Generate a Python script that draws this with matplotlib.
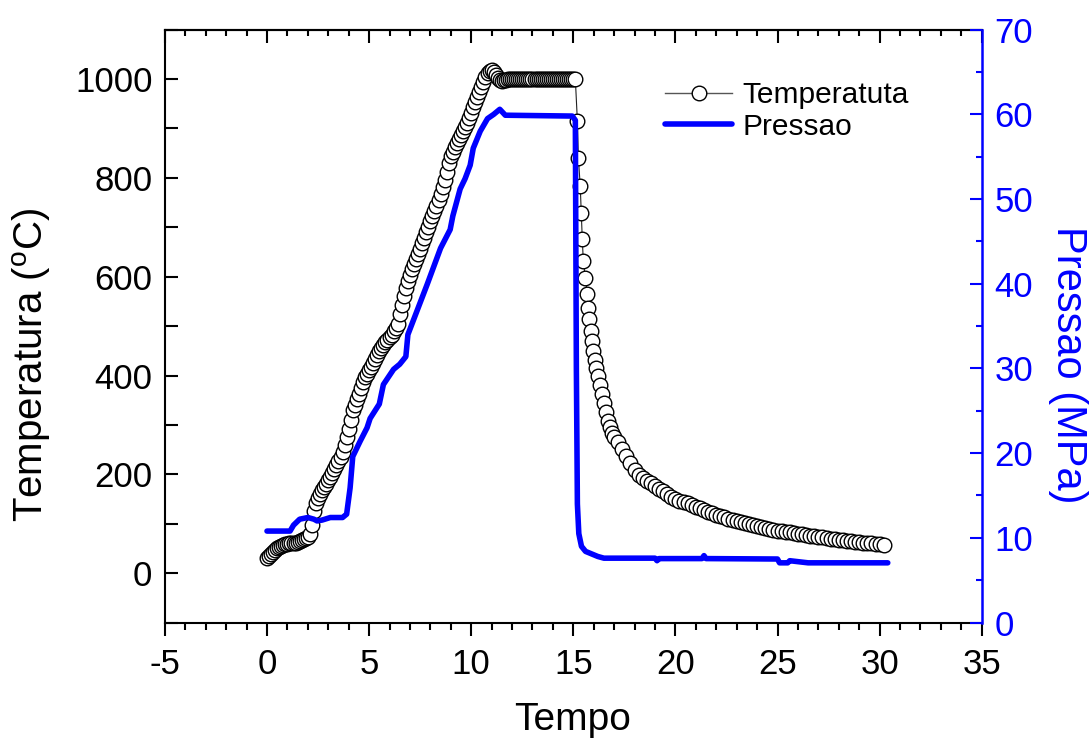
import numpy as np
import matplotlib
matplotlib.use("Agg")
import matplotlib.pyplot as plt
from matplotlib.ticker import MultipleLocator
from matplotlib.lines import Line2D

plt.rcParams["font.family"] = ["Liberation Sans", "DejaVu Sans"]
plt.rcParams["mathtext.default"] = "regular"
plt.rcParams["axes.unicode_minus"] = False

# Temperature (C)
ramp_temp = [30, 34, 38, 43, 47, 50, 52, 54, 56, 58,
             59, 60, 60, 61, 62, 63, 65, 67, 69, 71,
             73, 80, 98, 125, 141, 152, 160, 168, 174, 181,
             188, 195, 202, 210, 218, 226, 235, 245, 260, 276,
             292, 310, 330, 341, 352, 363, 374, 386, 397, 404,
             411, 418, 425, 433, 441, 449, 455, 461, 467, 472,
             477, 483, 490, 496, 505, 525, 542, 560, 578, 592,
             604, 615, 625, 635, 646, 657, 668, 679, 690, 701,
             712, 723, 733, 743, 755, 768, 782, 796, 812, 830,
             845, 853, 862, 870, 878, 886, 895, 903, 911, 922,
             932, 943, 953, 964, 974, 984, 994, 1004, 1012, 1016,
             1018, 1015, 1008, 1002, 998, 997]
hold_temp = [998, 999, 1000, 1001, 1001, 1000, 1000, 1001, 1001, 1000,
             1000, 1001, 1000, 1000, 1001, 1000, 1000, 1000, 1001, 1000,
             1000, 1001, 1000, 1000, 1000, 1001, 1000, 1000, 1001, 1000,
             1000, 1000, 1001, 1000, 1000]
cool_time = [15.10, 15.20, 15.25, 15.34, 15.39, 15.44, 15.49, 15.59, 15.69, 15.74,
             15.78, 15.88, 15.93, 15.98, 16.05, 16.12, 16.20, 16.30, 16.40, 16.50,
             16.60, 16.70, 16.80, 16.90]
cool_temp = [1000, 915, 840, 783, 729, 676, 632, 597, 565, 536,
             514, 490, 470, 449, 432, 416, 400, 380, 362, 345,
             326, 308, 295, 284]
tail_temp = [275, 265, 251, 237, 222, 208, 198,
             192, 187, 182, 176, 171, 166, 160, 155, 150,
             147, 144, 141, 137, 134, 131, 127, 124, 121, 118,
             115, 113, 110, 108, 105, 103, 101, 99, 97, 95,
             93, 91, 89, 87, 86, 85, 84, 83, 82, 80,
             79, 78, 76, 75, 74, 73, 72, 70, 69, 68,
             67, 66, 65, 64, 63, 62, 61, 60, 59, 58,
             57]

# Pressure (MPa) polyline
press_time = [0.0, 1.13, 1.3, 1.6, 2.0, 2.3, 2.45, 2.7, 3.1, 3.7,
              3.9, 4.07, 4.2, 4.56, 4.9, 5.05, 5.5, 5.7, 6.2, 6.5,
              6.8, 6.9, 7.84, 8.5, 8.97, 9.1, 9.46, 9.7, 9.95, 10.1,
              10.44, 10.8, 11.1, 11.4, 11.67, 14.95, 15.1, 15.15, 15.2, 15.27,
              15.4, 15.6, 15.9, 16.2, 16.5, 19.0, 19.1, 19.2, 21.3, 21.4,
              21.5, 25.0, 25.1, 25.5, 25.6, 26.5, 26.6, 30.4]
press_val = [10.8, 10.8, 11.5, 12.2, 12.4, 12.2, 12.0, 12.1, 12.4, 12.4,
             12.8, 15.9, 19.6, 21.4, 23.0, 24.1, 25.8, 28.1, 29.9, 30.5,
             31.4, 34.0, 39.9, 44.2, 46.4, 48.0, 51.2, 52.4, 54.0, 56.0,
             58.0, 59.5, 60.0, 60.6, 59.9, 59.8, 59.3, 30.0, 14.0, 10.5,
             9.0, 8.4, 8.1, 7.8, 7.6, 7.6, 7.3, 7.55, 7.55, 7.9,
             7.55, 7.5, 7.05, 7.05, 7.3, 7.05, 7.05, 7.05]

ramp_time = np.linspace(0.0, 11.5, len(ramp_temp))
hold_time = np.linspace(11.6, 15.0, len(hold_temp))
tail_time = np.linspace(17.0, 30.2, len(tail_temp))
temp_time = np.concatenate([ramp_time, hold_time, cool_time, tail_time])
temp_val = np.concatenate([ramp_temp, hold_temp, cool_temp, tail_temp])

W, H = 1092, 742
fig = plt.figure(figsize=(W / 100, H / 100), dpi=100)
ax = fig.add_axes([0.151, 0.161, 0.748, 0.799])
ax2 = ax.twinx()

ax.plot(temp_time, temp_val, color="#222222", linewidth=0.8,
        marker="o", markersize=10.5, markerfacecolor="white",
        markeredgecolor="black", markeredgewidth=1.0)
ax2.plot(press_time, press_val, color="#0000ff", linewidth=4,
         solid_capstyle="round", solid_joinstyle="round")

ax.set_xlim(-5, 35)
ax.set_ylim(-100, 1100)
ax2.set_ylim(0, 70)

ax.xaxis.set_major_locator(MultipleLocator(5))
ax.xaxis.set_minor_locator(MultipleLocator(1))
ax.yaxis.set_major_locator(MultipleLocator(200))
ax.yaxis.set_minor_locator(MultipleLocator(100))
ax2.yaxis.set_major_locator(MultipleLocator(10))
ax2.yaxis.set_minor_locator(MultipleLocator(5))

ax.tick_params(axis="x", which="major", direction="out", length=9, width=1.5,
               labelsize=25, pad=9)
ax.tick_params(axis="x", which="minor", direction="out", length=5, width=1.5)
ax.tick_params(axis="y", which="both", direction="in", length=9, width=1.5,
               labelsize=25, pad=9)
ax2.tick_params(axis="y", which="major", direction="in", length=9, width=1.5,
                labelsize=25, colors="#0000ff", pad=9)
ax2.tick_params(axis="y", which="minor", direction="in", length=4.5, width=1.5,
                colors="#0000ff")

top = ax.secondary_xaxis("top")
top.xaxis.set_major_locator(MultipleLocator(5))
top.xaxis.set_minor_locator(MultipleLocator(1))
top.tick_params(axis="x", which="major", direction="in", length=9, width=1.5,
                labeltop=False)
top.tick_params(axis="x", which="minor", direction="in", length=4.5, width=1.5)
top.spines["top"].set_linewidth(1.5)

for s in ax.spines.values():
    s.set_linewidth(1.5)
ax.spines["right"].set_visible(False)
ax2.spines["left"].set_visible(False)
ax2.spines["bottom"].set_visible(False)
ax2.spines["top"].set_visible(False)
ax2.spines["right"].set_color("#0000ff")
ax2.spines["right"].set_linewidth(1.8)

# axis titles placed at the reference pixel positions
fig.text(573 / W, 1 - 720 / H, "Tempo", fontsize=28, ha="center", va="center")
fig.text(32 / W, 1 - 365 / H, "Temperatura ($^{o}$C)", fontsize=29,
         rotation=90, ha="center", va="center")
fig.text(1068 / W, 1 - 365 / H, "Pressao (MPa)", fontsize=30, color="#0000ff",
         rotation=270, ha="center", va="center")

handles = [Line2D([], [], color="#555555", linewidth=1, marker="o",
                  markersize=10.5, markerfacecolor="white",
                  markeredgecolor="black", markeredgewidth=1.0),
           Line2D([], [], color="#0000ff", linewidth=4, solid_capstyle="round")]
ax2.legend(handles, ["Temperatuta", "Pressao"], loc="upper left",
           bbox_to_anchor=(0.594, 0.938), frameon=False, fontsize=21.5,
           handlelength=2.25, handletextpad=0.35, labelspacing=0.12,
           borderpad=0)

fig.savefig("out.png", dpi=100)
